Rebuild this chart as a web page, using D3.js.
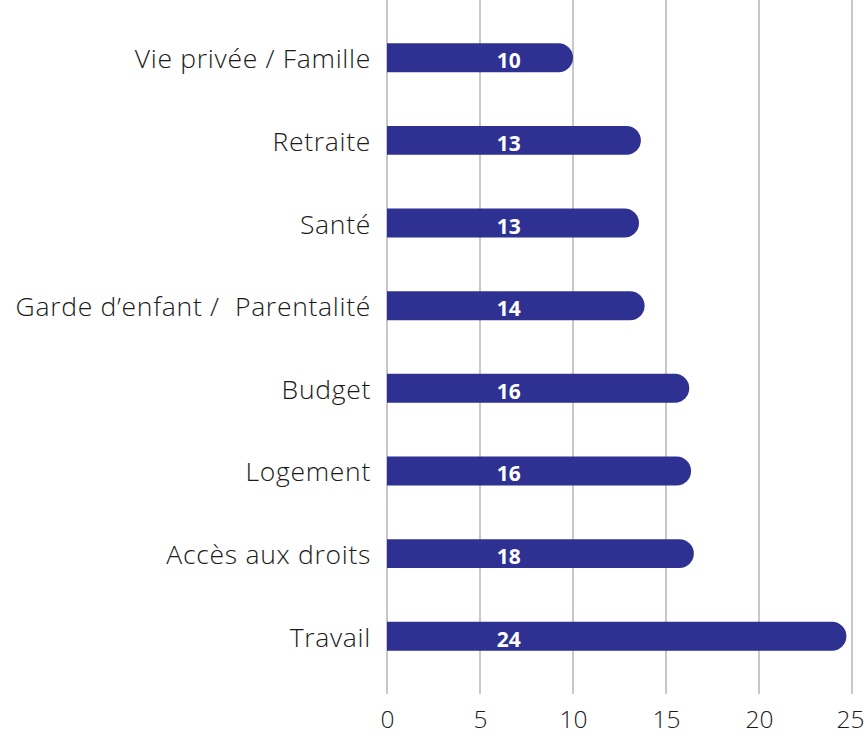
<!DOCTYPE html>
<html>
<head>
<meta charset="utf-8">
<script src="https://cdn.jsdelivr.net/npm/d3@7"></script>
<style>
  html, body { margin: 0; padding: 0; background: #fff; }
  svg { display: block; }
</style>
</head>
<body>
<svg id="chart" width="864" height="735"></svg>
<script>
// Data
const categories = ["Vie privée / Famille", "Retraite", "Santé", "Garde d\u2019enfant /  Parentalité", "Budget", "Logement", "Accès aux droits", "Travail"];
const labels = [10, 13, 13, 14, 16, 16, 18, 24];          // printed values
const barLengths = [10.0, 13.65, 13.55, 13.85, 16.25, 16.35, 16.5, 24.7]; // drawn bar lengths as seen
const ticks = [0, 5, 10, 15, 20, 25];

const svg = d3.select("#chart");

const x = d3.scaleLinear().domain([0, 25]).range([387, 852]);
const y = d3.scaleBand().domain(categories).range([16, 678]).paddingInner(0.65).paddingOuter(0.33);

const font = "'Open Sans', 'Noto Sans', sans-serif";

// gridlines
svg.append("g").selectAll("line").data(ticks).join("line")
  .attr("x1", d => x(d)).attr("x2", d => x(d))
  .attr("y1", 0).attr("y2", 694)
  .attr("stroke", "#a3a3a3").attr("stroke-width", 1.2);

// bottom axis labels
const axis = d3.axisBottom(x).tickValues(ticks).tickSize(0).tickPadding(0);
const gx = svg.append("g").call(axis);
gx.select(".domain").remove();
gx.selectAll("text").attr("font-family", font).attr("font-size", 24.5).attr("font-weight", 300)
  .attr("fill", "#1a1a1a").attr("y", 728).attr("dy", 0)
  .attr("dx", d => d === 25 ? -2 : 0);

// bars with rounded right end
const bh = y.bandwidth();
const data = categories.map((c, i) => ({ c, label: labels[i], len: barLengths[i] }));
svg.append("g").selectAll("path").data(data).join("path")
  .attr("fill", "#2e3192")
  .attr("d", d => {
    const x0 = x(0), x1 = x(d.len), y0 = y(d.c), r = bh / 2;
    return `M${x0},${y0}H${x1 - r}A${r},${r} 0 0 1 ${x1 - r},${y0 + bh}H${x0}Z`;
  });

// value labels
svg.append("g").selectAll("text").data(data).join("text")
  .attr("x", x(6.55)).attr("y", d => y(d.c) + bh / 2 + 10.5)
  .attr("text-anchor", "middle")
  .attr("font-family", font).attr("font-weight", 700).attr("font-size", 21)
  .attr("fill", "#fff").text(d => d.label);

// category labels
const gy = svg.append("g").attr("transform", "translate(371,0)")
  .call(d3.axisLeft(y).tickSize(0).tickPadding(0));
gy.select(".domain").remove();
gy.selectAll("text").attr("font-family", font).attr("font-size", 26.5).attr("font-weight", 300)
  .attr("letter-spacing", 0.7)
  .attr("fill", "#1a1a1a").attr("dy", 0).attr("y", 10.5).style("white-space", "pre");
</script>
</body>
</html>
